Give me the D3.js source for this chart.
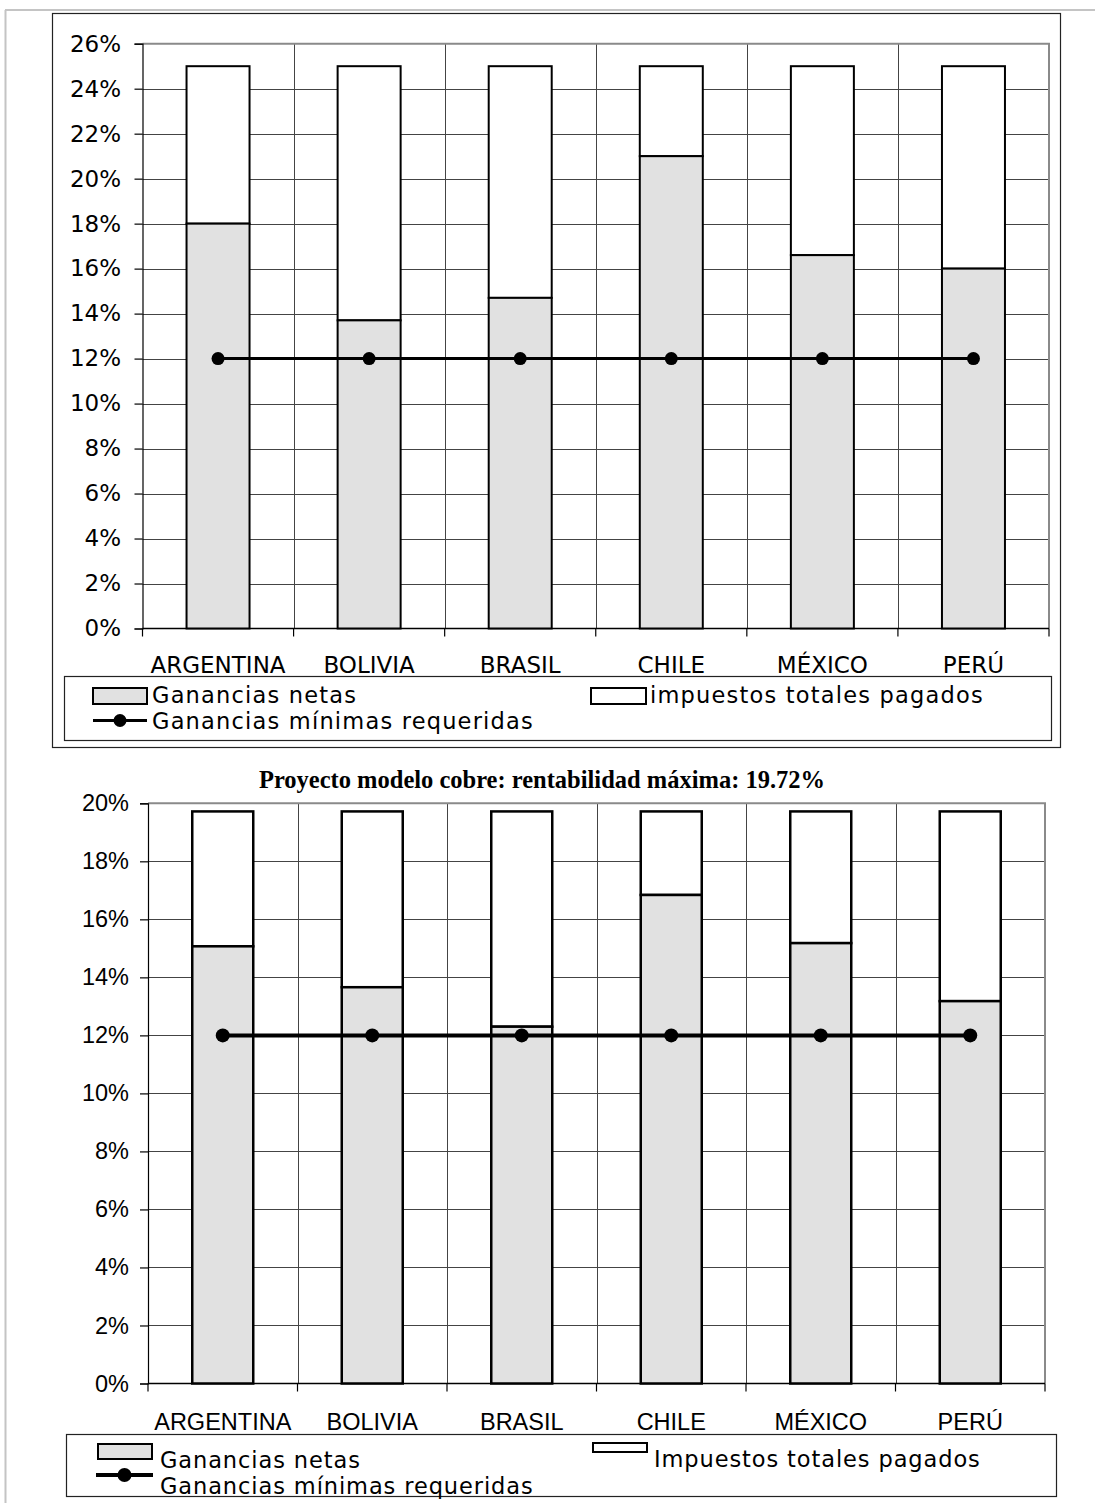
<!DOCTYPE html>
<html>
<head>
<meta charset="utf-8">
<script src="https://cdn.jsdelivr.net/npm/d3@7"></script>
<style>
  html, body { margin: 0; padding: 0; background: #fff; }
  svg { display: block; }
</style>
</head>
<body>
<svg id="chart" width="1095" height="1503"></svg>
<script>
// Categories shared by both panels
const countries = ["ARGENTINA", "BOLIVIA", "BRASIL", "CHILE", "MÉXICO", "PERÚ"];

// Upper panel (total return 25%)
const netTop = [18.0, 13.7, 14.7, 21.0, 16.6, 16.0];
const taxTop = [7.0, 11.3, 10.3, 4.0, 8.4, 9.0];
const minTop = [12, 12, 12, 12, 12, 12];
const ticksTop = [0, 2, 4, 6, 8, 10, 12, 14, 16, 18, 20, 22, 24, 26];

// Lower panel: copper model project, maximum return 19.72%
const netBottom = [15.07, 13.66, 12.30, 16.84, 15.18, 13.18];
const taxBottom = [4.65, 6.06, 7.42, 2.88, 4.54, 6.54];
const minBottom = [12, 12, 12, 12, 12, 12];
const ticksBottom = [0, 2, 4, 6, 8, 10, 12, 14, 16, 18, 20];

const titleBottom = "Proyecto modelo cobre: rentabilidad máxima: 19.72%";
const legendTop = ["Ganancias netas", "impuestos totales pagados", "Ganancias mínimas requeridas"];
const legendBottom = ["Ganancias netas", "Impuestos totales pagados", "Ganancias mínimas requeridas"];

const svg = d3.select("#chart");
const GRAY_FILL = "#e1e1e1";

// Page edge lines
svg.append("line").attr("x1", 5).attr("x2", 1095).attr("y1", 10).attr("y2", 10)
  .attr("stroke", "#c4c4c4").attr("stroke-width", 2);
svg.append("line").attr("x1", 5.5).attr("x2", 5.5).attr("y1", 10).attr("y2", 1503)
  .attr("stroke", "#c4c4c4").attr("stroke-width", 2);

function drawPanel(cfg) {
  const g = svg.append("g");
  const x = d3.scaleBand().domain(countries).range([cfg.left, cfg.right]).paddingInner(0).paddingOuter(0);
  const y = d3.scaleLinear().domain([0, cfg.max]).range([cfg.bottom, cfg.top]);

  // horizontal gridlines
  g.append("g").selectAll("line").data(cfg.ticks.filter(t => t > 0 && t < cfg.max)).join("line")
    .attr("x1", cfg.left).attr("x2", cfg.right)
    .attr("y1", d => Math.round(y(d)) + 0.5).attr("y2", d => Math.round(y(d)) + 0.5)
    .attr("stroke", "#444").attr("stroke-width", 1);

  // vertical gridlines on category boundaries
  const bounds = countries.slice(1).map(c => x(c));
  g.append("g").selectAll("line").data(bounds).join("line")
    .attr("x1", d => Math.round(d) + 0.5).attr("x2", d => Math.round(d) + 0.5)
    .attr("y1", cfg.top).attr("y2", cfg.bottom)
    .attr("stroke", "#444").attr("stroke-width", 1);

  // plot-area top and right border
  g.append("path")
    .attr("d", `M${cfg.left},${cfg.top}H${cfg.right}V${cfg.bottom}`)
    .attr("fill", "none").attr("stroke", "#8a8a8a").attr("stroke-width", 2);

  // y axis
  const yAxis = d3.axisLeft(y).tickValues(cfg.ticks).tickSize(8).tickPadding(cfg.tickPad)
    .tickFormat(d => d + "%");
  const ya = g.append("g").attr("transform", `translate(${cfg.left},0)`).call(yAxis);
  ya.select(".domain").attr("stroke", "#000").attr("stroke-width", 1.2);
  ya.selectAll(".tick line").attr("stroke", "#000").attr("stroke-width", 1.2);
  ya.selectAll(".tick text").attr("font-family", cfg.tickFont).attr("font-size", cfg.tickSize)
    .attr("fill", "#000");

  // x axis baseline and boundary tick marks
  g.append("line").attr("x1", cfg.left).attr("x2", cfg.right)
    .attr("y1", cfg.bottom).attr("y2", cfg.bottom).attr("stroke", "#000").attr("stroke-width", 1.5);
  const allBounds = countries.map(c => x(c)).concat([cfg.right]);
  g.append("g").selectAll("line").data(allBounds).join("line")
    .attr("x1", d => d).attr("x2", d => d)
    .attr("y1", cfg.bottom).attr("y2", cfg.bottom + 8)
    .attr("stroke", "#000").attr("stroke-width", 1.2);

  // category labels
  const xAxis = d3.axisBottom(x).tickSize(0).tickPadding(0);
  const xa = g.append("g").attr("transform", `translate(0,${cfg.labelY})`).call(xAxis);
  xa.select(".domain").remove();
  xa.selectAll(".tick text").attr("font-family", cfg.tickFont).attr("font-size", cfg.tickSize)
    .attr("fill", "#000").attr("dy", 0);

  // stacked bars
  const bw = x.bandwidth() * cfg.barFrac;
  const cx = c => x(c) + x.bandwidth() / 2;
  const rows = countries.map((c, i) => ({ c, net: cfg.net[i], tax: cfg.tax[i], min: cfg.min[i] }));

  g.append("g").selectAll("rect").data(rows).join("rect")
    .attr("x", d => cx(d.c) - bw / 2).attr("width", bw)
    .attr("y", d => y(d.net + d.tax)).attr("height", d => y(d.net) - y(d.net + d.tax))
    .attr("fill", "#fff").attr("stroke", "#000").attr("stroke-width", cfg.barStroke);
  g.append("g").selectAll("rect").data(rows).join("rect")
    .attr("x", d => cx(d.c) - bw / 2).attr("width", bw)
    .attr("y", d => y(d.net)).attr("height", d => y(0) - y(d.net))
    .attr("fill", GRAY_FILL).attr("stroke", "#000").attr("stroke-width", cfg.barStroke);

  // minimum required return line
  const line = d3.line().x(d => cx(d.c)).y(d => y(d.min));
  g.append("path").datum(rows).attr("d", line)
    .attr("fill", "none").attr("stroke", "#000").attr("stroke-width", cfg.lineW);
  g.append("g").selectAll("circle").data(rows).join("circle")
    .attr("cx", d => cx(d.c)).attr("cy", d => y(d.min)).attr("r", cfg.dotR).attr("fill", "#000");

  // legend
  const L = cfg.legend;
  g.append("rect").attr("x", L.x).attr("y", L.y).attr("width", L.w).attr("height", L.h)
    .attr("fill", "#fff").attr("stroke", "#222").attr("stroke-width", 1.2);
  g.append("rect").attr("x", L.sw1.x).attr("y", L.sw1.y).attr("width", L.sw1.w).attr("height", L.sw1.h)
    .attr("fill", GRAY_FILL).attr("stroke", "#000").attr("stroke-width", 2);
  g.append("rect").attr("x", L.sw2.x).attr("y", L.sw2.y).attr("width", L.sw2.w).attr("height", L.sw2.h)
    .attr("fill", "#fff").attr("stroke", "#000").attr("stroke-width", 2);
  g.append("line").attr("x1", L.ln.x1).attr("x2", L.ln.x2).attr("y1", L.ln.y).attr("y2", L.ln.y)
    .attr("stroke", "#000").attr("stroke-width", cfg.lineW);
  g.append("circle").attr("cx", (L.ln.x1 + L.ln.x2) / 2).attr("cy", L.ln.y).attr("r", cfg.dotR)
    .attr("fill", "#000");
  const lt = g.append("g").attr("font-family", L.font).attr("font-size", L.size)
    .attr("letter-spacing", L.spacing).attr("fill", "#000");
  lt.append("text").attr("x", L.t1.x).attr("y", L.t1.y).text(cfg.labels[0]);
  lt.append("text").attr("x", L.t2.x).attr("y", L.t2.y).text(cfg.labels[1]);
  lt.append("text").attr("x", L.t3.x).attr("y", L.t3.y).text(cfg.labels[2]);
}

// frame around the upper panel
svg.append("rect").attr("x", 52.5).attr("y", 13.5).attr("width", 1008).attr("height", 734)
  .attr("fill", "none").attr("stroke", "#222").attr("stroke-width", 1.2);

drawPanel({
  left: 142.5, right: 1049, top: 43.7, bottom: 628.5, max: 26,
  ticks: ticksTop, net: netTop, tax: taxTop, min: minTop,
  tickFont: "DejaVu Sans", tickSize: 23, tickPad: 13.5, labelY: 673,
  barFrac: 0.417, barStroke: 2, lineW: 3, dotR: 6.5,
  labels: legendTop,
  legend: {
    x: 64.5, y: 676.5, w: 987, h: 64,
    sw1: { x: 93, y: 688, w: 54, h: 16 },
    sw2: { x: 591, y: 688, w: 55, h: 16 },
    ln: { x1: 93, x2: 147, y: 720.5 },
    font: "DejaVu Sans", size: 22.5, spacing: 1.2,
    t1: { x: 152, y: 703 }, t2: { x: 650, y: 703 }, t3: { x: 152, y: 729 }
  }
});

// title of the lower panel
svg.append("text").attr("x", 542).attr("y", 788).attr("text-anchor", "middle")
  .attr("font-family", "Liberation Serif").attr("font-weight", "bold").attr("font-size", 24.5)
  .text(titleBottom);

drawPanel({
  left: 148, right: 1045, top: 803.3, bottom: 1383.5, max: 20,
  ticks: ticksBottom, net: netBottom, tax: taxBottom, min: minBottom,
  tickFont: "Liberation Sans", tickSize: 23.5, tickPad: 11, labelY: 1430,
  barFrac: 0.408, barStroke: 2.5, lineW: 4, dotR: 7,
  labels: legendBottom,
  legend: {
    x: 66.5, y: 1434.5, w: 990, h: 62,
    sw1: { x: 98, y: 1444, w: 54, h: 15 },
    sw2: { x: 593, y: 1443, w: 54, h: 9 },
    ln: { x1: 96, x2: 153, y: 1475 },
    font: "DejaVu Sans", size: 22.5, spacing: 0.9,
    t1: { x: 160, y: 1468 }, t2: { x: 654, y: 1467 }, t3: { x: 160, y: 1494 }
  }
});
</script>
</body>
</html>
